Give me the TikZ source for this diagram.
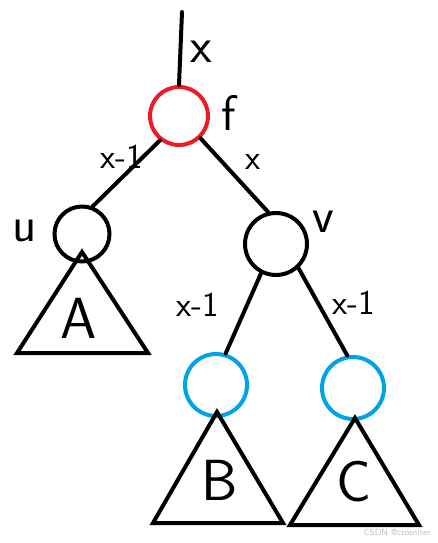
\documentclass[tikz,border=0pt]{standalone}
\usepackage{xcolor}
\usepackage{tikz}
\usetikzlibrary{calc}
\definecolor{paintred}{HTML}{ED1C24}
\definecolor{paintblue}{HTML}{00A2E8}

\begin{document}
\begin{tikzpicture}[
  x=1pt, y=-1pt,
  vertex/.style={circle, draw=black, line width=4pt, minimum size=55pt, inner sep=0pt},
  rootvertex/.style={vertex, draw=paintred, minimum size=58pt},
  bigvertex/.style={vertex, minimum size=62pt},
  leafvertex/.style={vertex, draw=paintblue, minimum size=62pt},
  edge/.style={line width=4pt, line cap=round},
  subtree/.style={line width=4pt, line join=miter},
  lbl/.style={font=\sffamily\fontsize{35}{35}\selectfont, inner sep=0pt},
  biglbl/.style={font=\sffamily\fontsize{50}{50}\selectfont, inner sep=0pt},
  treelbl/.style={font=\sffamily\fontsize{58}{58}\selectfont, inner sep=0pt},
]
  \useasboundingbox (0,0) rectangle (437,543);

  % nodes of the tree
  \node[rootvertex] (f) at (179,116) {};
  \node[vertex] (u) at (82,234) {};
  \node[bigvertex] (v) at (276,244) {};
  \node[leafvertex] (b) at (216,385) {};
  \node[leafvertex] (c) at (353,388) {};
  \coordinate (top) at (182,12);

  % subtrees
  \draw[subtree] (82,252) -- (148,353) -- (17,353) -- cycle;
  \draw[subtree] (217,412) -- (283,523) -- (153,523) -- cycle;
  \draw[subtree] (355,418) -- (419,525) -- (290,525) -- cycle;
  \node[treelbl] (ta) at (79,318) {A};
  \node[treelbl] (tb) at (220,480) {B};
  \node[treelbl] (tc) at (354,482) {C};

  % edges
  \draw[edge] (top) -- (f.north);
  \draw[edge] (f.232) -- (u.69);
  \draw[edge] (f.-46) -- (v.104);
  \draw[edge] (v.243) -- (b.73);
  \draw[edge] (v.-47) -- (c.100);

  % labels
  \node[biglbl] (lx) at (201,52) {x};
  \node[biglbl] (lf) at (229,113) {f};
  \node[lbl] (lfu) at (122,157) {x-1};
  \node[lbl] (lfv) at (253,162) {x};
  \node[biglbl] (lu) at (25,231) {u};
  \node[biglbl] (lv) at (323,222) {v};
  \node[lbl] (lvb) at (198,305) {x-1};
  \node[lbl] (lvc) at (354,303) {x-1};

  \node[font=\sffamily\fontsize{9}{9}\selectfont, text=black!25, inner sep=0pt] (mark) at (397,532) {CSDN @crosniter};
\end{tikzpicture}
\end{document}
